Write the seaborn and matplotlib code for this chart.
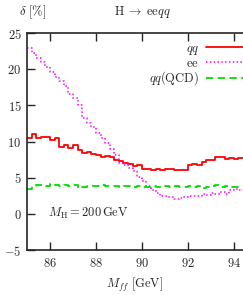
import numpy as np
import pandas as pd
import seaborn as sns
import matplotlib
matplotlib.use('Agg')
import matplotlib.pyplot as plt

# bin edges in M_ff [GeV], 0.2 GeV bins
mff_edges = np.round(np.arange(85.0, 94.41, 0.2), 1)

# relative correction delta [%] per bin
delta_qq = [10.5, 11.1, 10.5, 10.6, 10.6, 10.2, 10.5, 9.3, 9.5, 9.1,
            9.5, 8.8, 8.4, 8.6, 8.3, 8.1, 7.9, 8.0, 7.8, 7.4,
            7.3, 7.0, 6.9, 6.6, 6.7, 6.2, 6.2, 6.1, 6.25, 6.0,
            6.2, 6.25, 6.1, 6.1, 6.1, 6.8, 6.9, 6.8, 7.2, 7.4,
            7.5, 7.9, 7.8, 7.6, 7.7, 7.6, 7.7]
delta_ee = [23.0, 22.3, 21.6, 21.0, 20.3, 19.6, 18.9, 18.3, 17.7, 16.6,
            16.0, 15.0, 13.3, 12.5, 12.0, 11.2, 10.5, 9.8, 9.0, 8.2,
            7.0, 6.7, 6.4, 5.9, 5.1, 4.5, 3.8, 3.3, 2.9, 2.5,
            2.4, 2.3, 2.1, 2.2, 2.3, 2.4, 2.5, 2.5, 2.7, 2.6,
            2.9, 2.7, 3.0, 2.8, 3.3, 3.4, 3.3]
delta_qcd = [3.5, 3.8, 4.0, 4.0, 3.9, 4.1, 3.95, 3.9, 3.95, 3.9,
             3.95, 3.55, 3.75, 3.8, 3.8, 3.85, 3.95, 3.9, 3.8, 3.8,
             3.75, 3.8, 3.8, 3.75, 3.8, 3.7, 3.75, 3.8, 3.75, 3.75,
             3.8, 3.7, 3.8, 3.75, 3.75, 3.8, 3.75, 3.85, 3.6, 3.7,
             3.8, 3.95, 3.7, 3.9, 3.75, 3.7, 3.65]

sns.set_style('ticks')
plt.rcParams['font.family'] = ['DejaVu Serif']
plt.rcParams['mathtext.fontset'] = 'cm'

fig = plt.figure(figsize=(2.43, 2.95), dpi=100)
ax = fig.add_axes([0.111, 0.1525, 0.889, 0.7355])

# repeat last value so the final bin gets drawn with steps-post
def steps(vals):
    return pd.DataFrame({'x': mff_edges, 'y': list(vals) + [vals[-1]]})

sns.lineplot(data=steps(delta_qq), x='x', y='y', ax=ax, color='#ff0000', lw=1.3,
             drawstyle='steps-post', label=r'$qq$')
sns.lineplot(data=steps(delta_ee), x='x', y='y', ax=ax, color='#ff00ff', lw=1.1,
             linestyle=(0, (1, 1.5)), drawstyle='steps-post', label=r'$\mathrm{ee}$')
sns.lineplot(data=steps(delta_qcd), x='x', y='y', ax=ax, color='#00dd00', lw=1.3,
             linestyle=(0, (4, 2.5)), drawstyle='steps-post', label=r'$qq(\mathrm{QCD})$')

ax.set_xlim(85.0, 94.4)
ax.set_ylim(-5, 25)
ax.set_xticks([86, 88, 90, 92, 94])
ax.set_xticklabels([f'${v}$' for v in [86, 88, 90, 92, 94]])
ax.set_yticks([-5, 0, 5, 10, 15, 20, 25])
ax.set_yticklabels([f'${v}$' for v in [-5, 0, 5, 10, 15, 20, 25]])
ax.tick_params(direction='in', length=5.5, width=1.0, labelsize=9, top=True, right=False)
ax.tick_params(axis='x', pad=5)
ax.tick_params(axis='y', pad=4)
for s in ['left', 'bottom', 'top']:
    ax.spines[s].set_linewidth(1.2)
ax.spines['right'].set_visible(False)

ax.set_xlabel(r'$M_{ff}\ [\mathrm{GeV}]$', fontsize=9, labelpad=4)
ax.set_ylabel('')
ax.text(85.91, 0, r'$M_{\mathrm{H}} = 200\,\mathrm{GeV}$', fontsize=9, va='center', ha='left')

fig.text(0.078, 0.96, r'$\delta\ [\%]$', fontsize=9, va='center', ha='left')
fig.text(0.584, 0.96, r'$\mathrm{H}\;\rightarrow\;\mathrm{ee}qq$', fontsize=9, va='center', ha='center')

ax.legend(loc='upper right', bbox_to_anchor=(1.0, 0.96), frameon=False, markerfirst=False,
          fontsize=9, handlelength=3.0, handletextpad=0.5, labelspacing=0.0,
          borderaxespad=0.0, borderpad=0.0)

fig.savefig('out.png', dpi=100)
